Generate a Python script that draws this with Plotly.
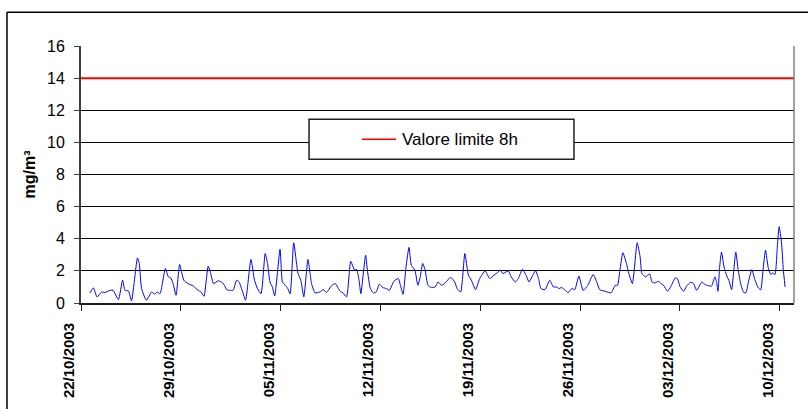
import pandas as pd
import plotly.graph_objects as go

START = "2003-10-22 00:00"
# hours elapsed since START, and CO 8h values (mg/m3)
HOURS = [15, 21, 27, 35, 40, 49, 54, 63, 70, 74, 80, 85, 95, 98, 102, 110, 119, 124, 128, 133,
         142, 147, 151, 155, 160, 166, 173, 180, 189, 197, 202, 207, 214, 218, 223, 231, 238, 242,
         245, 251, 256, 262, 266, 272, 277, 286, 292, 297, 303, 310, 314, 318, 322, 326, 335, 339,
         343, 348, 352, 358, 365, 370, 375, 382, 388, 394, 402, 408, 413, 422, 428, 436, 441, 447,
         454, 460, 464, 468, 471, 479,
         482, 487, 492, 497, 502, 508, 514, 519, 527, 534, 538, 542, 547, 552, 556, 562, 567, 571,
         575, 579, 584, 590, 596, 601, 607, 612, 622, 629, 633, 639, 646, 652, 657, 664, 671, 680,
         688, 695, 699, 706, 710, 719,
         724, 731, 736, 743, 749, 754, 759, 765, 770, 774, 781, 789, 795, 801, 804, 809, 815, 820,
         826, 831, 838, 845, 853, 862, 868, 873, 882, 892, 899, 903, 907, 912, 918, 922, 928, 936,
         941, 944, 950,
         957, 961, 966, 972, 978, 981, 987, 993, 1000, 1004, 1008, 1014, 1019, 1026, 1031, 1036,
         1045, 1050, 1056, 1061, 1067, 1070, 1072, 1075, 1078, 1082, 1087, 1091, 1095, 1102, 1106,
         1110, 1115, 1119, 1123, 1129, 1134, 1140, 1144, 1148, 1152, 1157, 1161, 1164, 1168, 1172,
         1175, 1179, 1182, 1185]
CO_8H = [0.63, 0.94, 0.38, 0.69, 0.65, 0.79, 0.79, 0.21, 1.42, 0.79, 0.75, 0.13, 2.81, 2.46, 0.90,
         0.17, 0.69, 0.54, 0.69, 0.58,
         2.15, 1.63, 1.56, 1.21, 0.48, 2.40, 1.42, 1.21, 1.06, 0.79, 0.69, 0.42, 2.29, 1.88, 1.21,
         1.38, 1.27, 1.06,
         0.83, 0.79, 0.79, 1.42, 1.31, 0.69, 0.17, 2.71, 1.42, 0.90, 0.58, 3.08, 2.46, 1.31, 1.00,
         0.44, 3.35, 1.31,
         1.15, 0.90, 0.58, 3.75, 1.88, 1.42, 0.38, 2.71, 1.21, 0.63, 0.69, 0.83, 0.65, 1.10, 1.21,
         0.73, 0.63, 0.38,
         2.60, 2.08, 2.08, 1.42, 0.58, 2.98,
         2.04, 0.90, 0.63, 0.69, 1.17, 0.96, 0.90, 0.79, 1.38, 1.52, 1.04, 0.54, 2.25, 3.46, 2.35,
         2.04, 1.10, 1.63,
         2.46, 2.08, 1.10, 0.96, 1.00, 1.31, 1.10, 1.21, 1.60, 1.31, 0.90, 0.69, 3.08, 1.73, 1.42,
         0.83, 1.52, 2.00,
         1.52, 1.73, 1.83, 2.04, 1.83, 2.00,
         1.63, 1.31, 1.52, 2.10, 1.73, 1.31, 1.63, 2.00, 1.52, 0.90, 0.83, 1.42, 1.00, 1.00, 0.90,
         0.96, 0.79, 0.65,
         0.90, 0.83, 1.67, 0.79, 1.10, 1.77, 1.31, 0.83, 0.73, 0.63, 1.10, 1.10, 2.04, 3.13, 2.46,
         1.83, 1.21, 3.75,
         2.88, 1.83, 1.63,
         1.81, 1.31, 1.25, 1.35, 1.15, 1.08, 0.73, 1.04, 1.56, 1.50, 1.04, 0.73, 1.04, 1.29, 1.21,
         0.79,
         1.31, 1.15, 1.08, 1.04, 1.63, 1.25, 0.73, 2.29, 3.17, 2.29, 1.67, 1.35, 0.83, 3.17, 2.08,
         1.25, 0.67, 0.63, 1.25, 2.08, 1.46, 0.94, 0.83, 2.08, 3.29, 2.13, 1.77, 1.88, 1.77, 3.54,
         4.75, 3.75, 2.08, 1.00]
LIMIT = 14
LIMIT_NAME = "Valore limite 8h"
X_RANGE = ["2003-10-22 00:00", "2003-12-11 00:00"]
TICK_DATES = ["2003-10-22", "2003-10-29", "2003-11-05", "2003-11-12", "2003-11-19",
              "2003-11-26", "2003-12-03", "2003-12-10"]
Y_TITLE = "mg/m³"

times = pd.Timestamp(START) + pd.to_timedelta(HOURS, unit="h")

FONT = "Liberation Sans, Arial, sans-serif"

fig = go.Figure()
fig.add_trace(go.Scatter(x=X_RANGE, y=[LIMIT, LIMIT], mode="lines",
                         line=dict(color="#FF0000", width=2), name=LIMIT_NAME,
                         showlegend=False, hoverinfo="skip"))
fig.add_trace(go.Scatter(x=times, y=CO_8H, mode="lines",
                         line=dict(color="#0000FF", width=1, shape="spline", smoothing=0.5),
                         name="CO", showlegend=False))

fig.update_layout(
    width=808, height=409,
    margin=dict(l=81, r=14, t=46, b=106),
    paper_bgcolor="white", plot_bgcolor="white",
    font=dict(family=FONT, color="black"),
    showlegend=False,
)
fig.update_xaxes(
    type="date", range=X_RANGE,
    tickmode="array", tickvals=TICK_DATES,
    ticktext=[pd.Timestamp(d).strftime("%d/%m/%Y") for d in TICK_DATES],
    tickangle=-90, tickfont=dict(size=15, weight="bold", family=FONT),
    ticks="outside", ticklen=6, tickcolor="#202020", tickwidth=1,
    showline=True, linecolor="#202020", linewidth=2,
    showgrid=False, zeroline=False,
    ticklabelshift=-12, ticklabelstandoff=6,
)
fig.update_yaxes(
    range=[0, 16], dtick=2, tick0=0,
    tickfont=dict(size=16, family=FONT),
    ticks="outside", ticklen=5, tickcolor="#404040", tickwidth=1,
    showline=True, linecolor="#404040", linewidth=2,
    showgrid=True, gridcolor="black", gridwidth=1,
    zeroline=False,
    ticklabelstandoff=6,
    title=dict(text=Y_TITLE, font=dict(size=16, weight="bold", family=FONT), standoff=7),
)

# outer chart border (only top and left edges fall inside the picture)
fig.add_shape(type="line", xref="paper", yref="paper", x0=-0.1038, x1=-0.1038, y0=-0.5, y1=1.131,
              line=dict(color="black", width=1.5))
fig.add_shape(type="line", xref="paper", yref="paper", x0=-0.1038, x1=1.2, y0=1.131, y1=1.131,
              line=dict(color="black", width=1.5))
# plot-area right border
fig.add_shape(type="line", xref="paper", yref="paper", x0=1, x1=1, y0=0, y1=1,
              line=dict(color="#808080", width=1.5))
# legend box
fig.add_shape(type="rect", xref="paper", yref="paper", x0=0.3198, x1=0.6914, y0=0.5597, y1=0.7151,
              line=dict(color="#202020", width=1.5), fillcolor="white", layer="above")
fig.add_shape(type="line", xref="paper", yref="paper", x0=0.3941, x1=0.4418, y0=0.6374, y1=0.6374,
              line=dict(color="#FF0000", width=1.5), layer="above")
fig.add_annotation(xref="paper", yref="paper", x=0.4474, y=0.6374, xanchor="left", yanchor="middle",
                   text=LIMIT_NAME, showarrow=False, font=dict(size=17, family=FONT, color="black"))

fig.write_html("out.html", config={"displayModeBar": False},
               post_script="document.body.style.margin='0';document.body.style.overflow='hidden';")
